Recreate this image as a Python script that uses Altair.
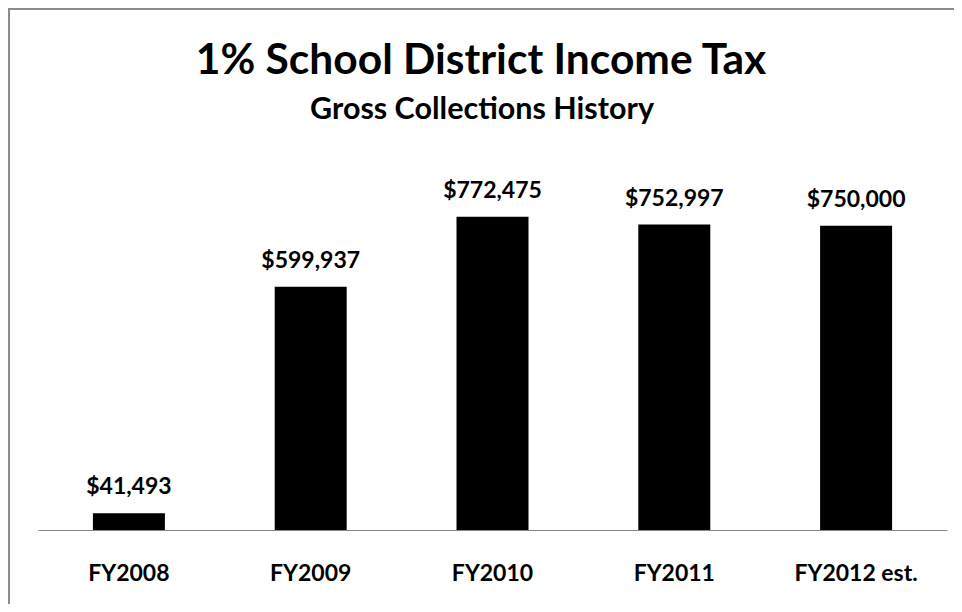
import altair as alt
import pandas as pd

years = ["FY2008", "FY2009", "FY2010", "FY2011", "FY2012 est."]
collections = [41493, 599937, 772475, 752997, 750000]
title_text = "1% School District Income Tax"
subtitle_text = "Gross Collections History"

df = pd.DataFrame({"year": years, "value": collections})

FONT = "Lato"
W, H = 909, 365

x = alt.X("year:N", sort=years,
          scale=alt.Scale(paddingInner=0.604, paddingOuter=0.302),
          axis=alt.Axis(title=None, labelAngle=0, ticks=False, domainColor="#868686",
                        domainWidth=1.2, labelFont=FONT, labelFontSize=23,
                        labelFontWeight="bold", labelColor="#000000",
                        labelBaseline="alphabetic", labelPadding=50))
y = alt.Y("value:Q", scale=alt.Scale(domain=[0, 900000]), axis=None)

base = alt.Chart(df)
bars = base.mark_bar(color="#000000").encode(x=x, y=y)
labels = base.mark_text(font=FONT, fontSize=23, fontWeight="bold", color="#000000",
                        baseline="alphabetic", dy=-19).encode(
    x=alt.X("year:N", sort=years), y="value:Q",
    text=alt.Text("value:Q", format="$,d"))

one = alt.Data(values=[{}])
title_mark = alt.Chart(one).mark_text(font=FONT, fontSize=42.5, fontWeight="bold",
                                      color="#000000", baseline="alphabetic",
                                      align="center").encode(
    x=alt.value(443), y=alt.value(-91), text=alt.value(title_text))
sub_mark = alt.Chart(one).mark_text(font=FONT, fontSize=30.5, fontWeight="bold",
                                    color="#000000", baseline="alphabetic",
                                    align="center").encode(
    x=alt.value(444), y=alt.value(-46), text=alt.value(subtitle_text))

frame_color = "#8c8c8c"
frame_left = alt.Chart(one).mark_rule(color=frame_color, strokeWidth=2).encode(
    x=alt.value(-29), y=alt.value(-156), y2=alt.value(440))
frame_top = alt.Chart(one).mark_rule(color=frame_color, strokeWidth=2).encode(
    x=alt.value(-30), x2=alt.value(920), y=alt.value(-156))

chart = alt.layer(bars, labels, title_mark, sub_mark, frame_left, frame_top).properties(
    width=W, height=H,
    autosize="none",
    padding={"left": 30, "top": 157, "right": 7, "bottom": 74},
).configure(background="#ffffff").configure_view(stroke=None)

chart.save("out.html", embed_options={"renderer": "svg", "actions": False})
